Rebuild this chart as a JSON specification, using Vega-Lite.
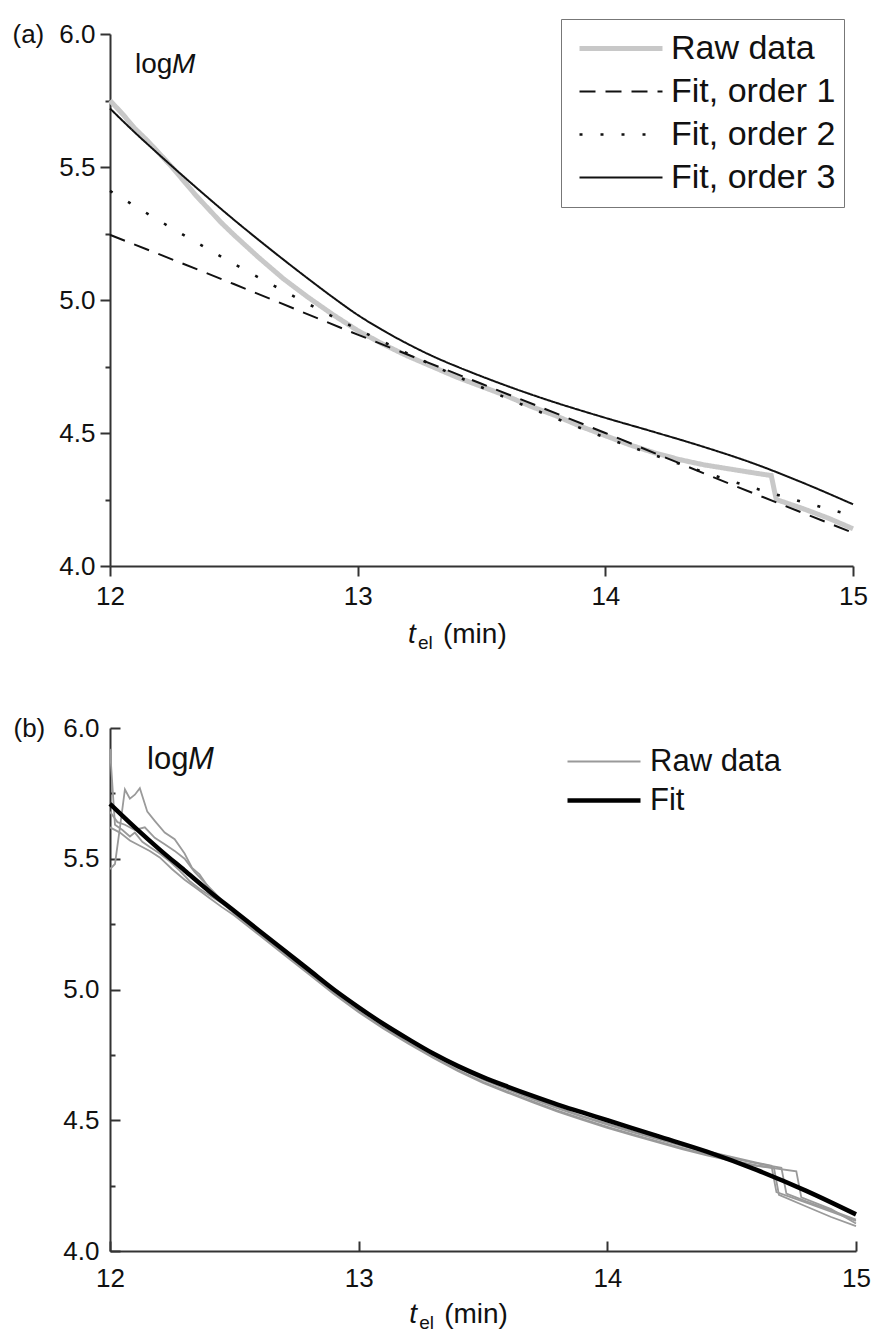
{
  "$schema": "https://vega.github.io/schema/vega-lite/v6.json",
  "background": "white",
  "padding": {"left": 12, "top": 18, "right": 0, "bottom": 4},
  "config": {
    "font": "Liberation Sans",
    "view": {"stroke": null},
    "axis": {"grid": false, "domainColor": "#333333", "domainWidth": 2, "tickColor": "#333333", "tickWidth": 2, "labelFont": "Liberation Sans", "labelFontSize": 26, "labelColor": "#111111", "labelFlush": false, "labelOverlap": false, "titleFont": "Liberation Sans", "titleFontSize": 26, "titleFontWeight": "normal", "titleColor": "#111111"},
    "legend": {"labelFont": "Liberation Sans", "labelColor": "#111111", "labelLimit": 500}
  },
  "datasets": {
    "a": [
      {"s": "Raw data", "t": 12.0, "v": 5.75}, {"s": "Raw data", "t": 12.05, "v": 5.70}, {"s": "Raw data", "t": 12.1, "v": 5.645}, {"s": "Raw data", "t": 12.15, "v": 5.60}, {"s": "Raw data", "t": 12.2, "v": 5.55}, {"s": "Raw data", "t": 12.25, "v": 5.50}, {"s": "Raw data", "t": 12.3, "v": 5.445}, {"s": "Raw data", "t": 12.35, "v": 5.39}, {"s": "Raw data", "t": 12.4, "v": 5.34}, {"s": "Raw data", "t": 12.45, "v": 5.29}, {"s": "Raw data", "t": 12.5, "v": 5.245}, {"s": "Raw data", "t": 12.6, "v": 5.16}, {"s": "Raw data", "t": 12.7, "v": 5.08}, {"s": "Raw data", "t": 12.8, "v": 5.01}, {"s": "Raw data", "t": 12.9, "v": 4.945}, {"s": "Raw data", "t": 13.0, "v": 4.885}, {"s": "Raw data", "t": 13.1, "v": 4.835}, {"s": "Raw data", "t": 13.2, "v": 4.79}, {"s": "Raw data", "t": 13.3, "v": 4.75}, {"s": "Raw data", "t": 13.4, "v": 4.71}, {"s": "Raw data", "t": 13.5, "v": 4.675}, {"s": "Raw data", "t": 13.6, "v": 4.64}, {"s": "Raw data", "t": 13.7, "v": 4.60}, {"s": "Raw data", "t": 13.8, "v": 4.565}, {"s": "Raw data", "t": 13.9, "v": 4.525}, {"s": "Raw data", "t": 14.0, "v": 4.49}, {"s": "Raw data", "t": 14.1, "v": 4.455}, {"s": "Raw data", "t": 14.2, "v": 4.425}, {"s": "Raw data", "t": 14.3, "v": 4.40}, {"s": "Raw data", "t": 14.4, "v": 4.38}, {"s": "Raw data", "t": 14.5, "v": 4.365}, {"s": "Raw data", "t": 14.6, "v": 4.35}, {"s": "Raw data", "t": 14.67, "v": 4.34}, {"s": "Raw data", "t": 14.69, "v": 4.25}, {"s": "Raw data", "t": 14.8, "v": 4.215}, {"s": "Raw data", "t": 14.9, "v": 4.18}, {"s": "Raw data", "t": 15.0, "v": 4.14},
      {"s": "Fit, order 1", "t": 12.0, "v": 5.245}, {"s": "Fit, order 1", "t": 12.5, "v": 5.06}, {"s": "Fit, order 1", "t": 13.0, "v": 4.87}, {"s": "Fit, order 1", "t": 13.5, "v": 4.685}, {"s": "Fit, order 1", "t": 14.0, "v": 4.50}, {"s": "Fit, order 1", "t": 14.5, "v": 4.31}, {"s": "Fit, order 1", "t": 15.0, "v": 4.125},
      {"s": "Fit, order 2", "t": 12.0, "v": 5.41}, {"s": "Fit, order 2", "t": 12.25, "v": 5.27}, {"s": "Fit, order 2", "t": 12.5, "v": 5.136}, {"s": "Fit, order 2", "t": 12.75, "v": 5.01}, {"s": "Fit, order 2", "t": 13.0, "v": 4.89}, {"s": "Fit, order 2", "t": 13.25, "v": 4.778}, {"s": "Fit, order 2", "t": 13.5, "v": 4.672}, {"s": "Fit, order 2", "t": 13.75, "v": 4.574}, {"s": "Fit, order 2", "t": 14.0, "v": 4.483}, {"s": "Fit, order 2", "t": 14.25, "v": 4.40}, {"s": "Fit, order 2", "t": 14.5, "v": 4.322}, {"s": "Fit, order 2", "t": 14.75, "v": 4.253}, {"s": "Fit, order 2", "t": 15.0, "v": 4.19},
      {"s": "Fit, order 3", "t": 12.0, "v": 5.72}, {"s": "Fit, order 3", "t": 12.1, "v": 5.63}, {"s": "Fit, order 3", "t": 12.2, "v": 5.545}, {"s": "Fit, order 3", "t": 12.3, "v": 5.462}, {"s": "Fit, order 3", "t": 12.4, "v": 5.381}, {"s": "Fit, order 3", "t": 12.5, "v": 5.302}, {"s": "Fit, order 3", "t": 12.6, "v": 5.226}, {"s": "Fit, order 3", "t": 12.7, "v": 5.152}, {"s": "Fit, order 3", "t": 12.8, "v": 5.08}, {"s": "Fit, order 3", "t": 12.9, "v": 5.01}, {"s": "Fit, order 3", "t": 13.0, "v": 4.944}, {"s": "Fit, order 3", "t": 13.1, "v": 4.887}, {"s": "Fit, order 3", "t": 13.2, "v": 4.836}, {"s": "Fit, order 3", "t": 13.3, "v": 4.79}, {"s": "Fit, order 3", "t": 13.4, "v": 4.75}, {"s": "Fit, order 3", "t": 13.5, "v": 4.713}, {"s": "Fit, order 3", "t": 13.6, "v": 4.678}, {"s": "Fit, order 3", "t": 13.7, "v": 4.645}, {"s": "Fit, order 3", "t": 13.8, "v": 4.614}, {"s": "Fit, order 3", "t": 13.9, "v": 4.585}, {"s": "Fit, order 3", "t": 14.0, "v": 4.557}, {"s": "Fit, order 3", "t": 14.2, "v": 4.503}, {"s": "Fit, order 3", "t": 14.4, "v": 4.447}, {"s": "Fit, order 3", "t": 14.6, "v": 4.385}, {"s": "Fit, order 3", "t": 14.8, "v": 4.312}, {"s": "Fit, order 3", "t": 15.0, "v": 4.232}
    ],
    "b": [
      {"s": "Raw data", "r": 1, "t": 12.0, "v": 5.92}, {"s": "Raw data", "r": 1, "t": 12.02, "v": 5.63}, {"s": "Raw data", "r": 1, "t": 12.05, "v": 5.61}, {"s": "Raw data", "r": 1, "t": 12.08, "v": 5.585}, {"s": "Raw data", "r": 1, "t": 12.1, "v": 5.60}, {"s": "Raw data", "r": 1, "t": 12.13, "v": 5.565}, {"s": "Raw data", "r": 1, "t": 12.16, "v": 5.545}, {"s": "Raw data", "r": 1, "t": 12.2, "v": 5.52}, {"s": "Raw data", "r": 1, "t": 12.24, "v": 5.49}, {"s": "Raw data", "r": 1, "t": 12.28, "v": 5.455}, {"s": "Raw data", "r": 1, "t": 12.32, "v": 5.415}, {"s": "Raw data", "r": 1, "t": 12.36, "v": 5.385}, {"s": "Raw data", "r": 1, "t": 12.4, "v": 5.36}, {"s": "Raw data", "r": 1, "t": 12.45, "v": 5.33}, {"s": "Raw data", "r": 1, "t": 12.5, "v": 5.30}, {"s": "Raw data", "r": 1, "t": 12.6, "v": 5.222}, {"s": "Raw data", "r": 1, "t": 12.7, "v": 5.148}, {"s": "Raw data", "r": 1, "t": 12.8, "v": 5.072}, {"s": "Raw data", "r": 1, "t": 12.9, "v": 4.998}, {"s": "Raw data", "r": 1, "t": 13.0, "v": 4.928}, {"s": "Raw data", "r": 1, "t": 13.1, "v": 4.866}, {"s": "Raw data", "r": 1, "t": 13.2, "v": 4.808}, {"s": "Raw data", "r": 1, "t": 13.3, "v": 4.754}, {"s": "Raw data", "r": 1, "t": 13.4, "v": 4.704}, {"s": "Raw data", "r": 1, "t": 13.5, "v": 4.66}, {"s": "Raw data", "r": 1, "t": 13.6, "v": 4.62}, {"s": "Raw data", "r": 1, "t": 13.7, "v": 4.584}, {"s": "Raw data", "r": 1, "t": 13.8, "v": 4.548}, {"s": "Raw data", "r": 1, "t": 13.9, "v": 4.516}, {"s": "Raw data", "r": 1, "t": 14.0, "v": 4.487}, {"s": "Raw data", "r": 1, "t": 14.1, "v": 4.458}, {"s": "Raw data", "r": 1, "t": 14.2, "v": 4.432}, {"s": "Raw data", "r": 1, "t": 14.3, "v": 4.406}, {"s": "Raw data", "r": 1, "t": 14.4, "v": 4.382}, {"s": "Raw data", "r": 1, "t": 14.5, "v": 4.36}, {"s": "Raw data", "r": 1, "t": 14.6, "v": 4.338}, {"s": "Raw data", "r": 1, "t": 14.66, "v": 4.326}, {"s": "Raw data", "r": 1, "t": 14.68, "v": 4.225}, {"s": "Raw data", "r": 1, "t": 14.8, "v": 4.185}, {"s": "Raw data", "r": 1, "t": 14.9, "v": 4.15}, {"s": "Raw data", "r": 1, "t": 15.0, "v": 4.115},
      {"s": "Raw data", "r": 2, "t": 12.0, "v": 5.46}, {"s": "Raw data", "r": 2, "t": 12.02, "v": 5.48}, {"s": "Raw data", "r": 2, "t": 12.04, "v": 5.62}, {"s": "Raw data", "r": 2, "t": 12.06, "v": 5.765}, {"s": "Raw data", "r": 2, "t": 12.08, "v": 5.73}, {"s": "Raw data", "r": 2, "t": 12.1, "v": 5.745}, {"s": "Raw data", "r": 2, "t": 12.12, "v": 5.77}, {"s": "Raw data", "r": 2, "t": 12.15, "v": 5.68}, {"s": "Raw data", "r": 2, "t": 12.18, "v": 5.645}, {"s": "Raw data", "r": 2, "t": 12.22, "v": 5.60}, {"s": "Raw data", "r": 2, "t": 12.26, "v": 5.575}, {"s": "Raw data", "r": 2, "t": 12.3, "v": 5.52}, {"s": "Raw data", "r": 2, "t": 12.33, "v": 5.465}, {"s": "Raw data", "r": 2, "t": 12.36, "v": 5.44}, {"s": "Raw data", "r": 2, "t": 12.4, "v": 5.385}, {"s": "Raw data", "r": 2, "t": 12.45, "v": 5.33}, {"s": "Raw data", "r": 2, "t": 12.5, "v": 5.29}, {"s": "Raw data", "r": 2, "t": 12.6, "v": 5.212}, {"s": "Raw data", "r": 2, "t": 12.7, "v": 5.138}, {"s": "Raw data", "r": 2, "t": 12.8, "v": 5.062}, {"s": "Raw data", "r": 2, "t": 12.9, "v": 4.987}, {"s": "Raw data", "r": 2, "t": 13.0, "v": 4.917}, {"s": "Raw data", "r": 2, "t": 13.1, "v": 4.854}, {"s": "Raw data", "r": 2, "t": 13.2, "v": 4.797}, {"s": "Raw data", "r": 2, "t": 13.3, "v": 4.742}, {"s": "Raw data", "r": 2, "t": 13.4, "v": 4.692}, {"s": "Raw data", "r": 2, "t": 13.5, "v": 4.647}, {"s": "Raw data", "r": 2, "t": 13.6, "v": 4.609}, {"s": "Raw data", "r": 2, "t": 13.7, "v": 4.572}, {"s": "Raw data", "r": 2, "t": 13.8, "v": 4.537}, {"s": "Raw data", "r": 2, "t": 13.9, "v": 4.505}, {"s": "Raw data", "r": 2, "t": 14.0, "v": 4.475}, {"s": "Raw data", "r": 2, "t": 14.1, "v": 4.447}, {"s": "Raw data", "r": 2, "t": 14.2, "v": 4.42}, {"s": "Raw data", "r": 2, "t": 14.3, "v": 4.394}, {"s": "Raw data", "r": 2, "t": 14.4, "v": 4.37}, {"s": "Raw data", "r": 2, "t": 14.5, "v": 4.347}, {"s": "Raw data", "r": 2, "t": 14.6, "v": 4.327}, {"s": "Raw data", "r": 2, "t": 14.67, "v": 4.318}, {"s": "Raw data", "r": 2, "t": 14.69, "v": 4.215}, {"s": "Raw data", "r": 2, "t": 14.8, "v": 4.17}, {"s": "Raw data", "r": 2, "t": 14.9, "v": 4.13}, {"s": "Raw data", "r": 2, "t": 15.0, "v": 4.095},
      {"s": "Raw data", "r": 3, "t": 12.0, "v": 5.68}, {"s": "Raw data", "r": 3, "t": 12.03, "v": 5.64}, {"s": "Raw data", "r": 3, "t": 12.06, "v": 5.63}, {"s": "Raw data", "r": 3, "t": 12.1, "v": 5.61}, {"s": "Raw data", "r": 3, "t": 12.14, "v": 5.62}, {"s": "Raw data", "r": 3, "t": 12.18, "v": 5.58}, {"s": "Raw data", "r": 3, "t": 12.22, "v": 5.555}, {"s": "Raw data", "r": 3, "t": 12.26, "v": 5.53}, {"s": "Raw data", "r": 3, "t": 12.3, "v": 5.50}, {"s": "Raw data", "r": 3, "t": 12.34, "v": 5.45}, {"s": "Raw data", "r": 3, "t": 12.38, "v": 5.41}, {"s": "Raw data", "r": 3, "t": 12.42, "v": 5.37}, {"s": "Raw data", "r": 3, "t": 12.46, "v": 5.33}, {"s": "Raw data", "r": 3, "t": 12.5, "v": 5.297}, {"s": "Raw data", "r": 3, "t": 12.6, "v": 5.22}, {"s": "Raw data", "r": 3, "t": 12.7, "v": 5.145}, {"s": "Raw data", "r": 3, "t": 12.8, "v": 5.07}, {"s": "Raw data", "r": 3, "t": 12.9, "v": 4.995}, {"s": "Raw data", "r": 3, "t": 13.0, "v": 4.925}, {"s": "Raw data", "r": 3, "t": 13.1, "v": 4.862}, {"s": "Raw data", "r": 3, "t": 13.2, "v": 4.805}, {"s": "Raw data", "r": 3, "t": 13.3, "v": 4.75}, {"s": "Raw data", "r": 3, "t": 13.4, "v": 4.70}, {"s": "Raw data", "r": 3, "t": 13.5, "v": 4.655}, {"s": "Raw data", "r": 3, "t": 13.6, "v": 4.617}, {"s": "Raw data", "r": 3, "t": 13.7, "v": 4.58}, {"s": "Raw data", "r": 3, "t": 13.8, "v": 4.545}, {"s": "Raw data", "r": 3, "t": 13.9, "v": 4.513}, {"s": "Raw data", "r": 3, "t": 14.0, "v": 4.483}, {"s": "Raw data", "r": 3, "t": 14.1, "v": 4.455}, {"s": "Raw data", "r": 3, "t": 14.2, "v": 4.428}, {"s": "Raw data", "r": 3, "t": 14.3, "v": 4.402}, {"s": "Raw data", "r": 3, "t": 14.4, "v": 4.378}, {"s": "Raw data", "r": 3, "t": 14.5, "v": 4.355}, {"s": "Raw data", "r": 3, "t": 14.6, "v": 4.335}, {"s": "Raw data", "r": 3, "t": 14.7, "v": 4.318}, {"s": "Raw data", "r": 3, "t": 14.72, "v": 4.22}, {"s": "Raw data", "r": 3, "t": 14.8, "v": 4.19}, {"s": "Raw data", "r": 3, "t": 14.9, "v": 4.155}, {"s": "Raw data", "r": 3, "t": 15.0, "v": 4.12},
      {"s": "Raw data", "r": 4, "t": 12.0, "v": 5.62}, {"s": "Raw data", "r": 4, "t": 12.04, "v": 5.60}, {"s": "Raw data", "r": 4, "t": 12.08, "v": 5.57}, {"s": "Raw data", "r": 4, "t": 12.12, "v": 5.55}, {"s": "Raw data", "r": 4, "t": 12.16, "v": 5.53}, {"s": "Raw data", "r": 4, "t": 12.2, "v": 5.505}, {"s": "Raw data", "r": 4, "t": 12.25, "v": 5.46}, {"s": "Raw data", "r": 4, "t": 12.3, "v": 5.42}, {"s": "Raw data", "r": 4, "t": 12.35, "v": 5.385}, {"s": "Raw data", "r": 4, "t": 12.4, "v": 5.35}, {"s": "Raw data", "r": 4, "t": 12.45, "v": 5.315}, {"s": "Raw data", "r": 4, "t": 12.5, "v": 5.283}, {"s": "Raw data", "r": 4, "t": 12.6, "v": 5.208}, {"s": "Raw data", "r": 4, "t": 12.7, "v": 5.133}, {"s": "Raw data", "r": 4, "t": 12.8, "v": 5.058}, {"s": "Raw data", "r": 4, "t": 12.9, "v": 4.983}, {"s": "Raw data", "r": 4, "t": 13.0, "v": 4.913}, {"s": "Raw data", "r": 4, "t": 13.1, "v": 4.85}, {"s": "Raw data", "r": 4, "t": 13.2, "v": 4.793}, {"s": "Raw data", "r": 4, "t": 13.3, "v": 4.738}, {"s": "Raw data", "r": 4, "t": 13.4, "v": 4.688}, {"s": "Raw data", "r": 4, "t": 13.5, "v": 4.643}, {"s": "Raw data", "r": 4, "t": 13.6, "v": 4.605}, {"s": "Raw data", "r": 4, "t": 13.7, "v": 4.568}, {"s": "Raw data", "r": 4, "t": 13.8, "v": 4.533}, {"s": "Raw data", "r": 4, "t": 13.9, "v": 4.501}, {"s": "Raw data", "r": 4, "t": 14.0, "v": 4.471}, {"s": "Raw data", "r": 4, "t": 14.1, "v": 4.443}, {"s": "Raw data", "r": 4, "t": 14.2, "v": 4.416}, {"s": "Raw data", "r": 4, "t": 14.3, "v": 4.39}, {"s": "Raw data", "r": 4, "t": 14.4, "v": 4.366}, {"s": "Raw data", "r": 4, "t": 14.5, "v": 4.345}, {"s": "Raw data", "r": 4, "t": 14.6, "v": 4.326}, {"s": "Raw data", "r": 4, "t": 14.76, "v": 4.305}, {"s": "Raw data", "r": 4, "t": 14.78, "v": 4.205}, {"s": "Raw data", "r": 4, "t": 14.9, "v": 4.16}, {"s": "Raw data", "r": 4, "t": 15.0, "v": 4.105},
      {"s": "Fit", "r": 0, "t": 12.0, "v": 5.71}, {"s": "Fit", "r": 0, "t": 12.1, "v": 5.62}, {"s": "Fit", "r": 0, "t": 12.2, "v": 5.535}, {"s": "Fit", "r": 0, "t": 12.3, "v": 5.455}, {"s": "Fit", "r": 0, "t": 12.4, "v": 5.375}, {"s": "Fit", "r": 0, "t": 12.5, "v": 5.30}, {"s": "Fit", "r": 0, "t": 12.6, "v": 5.225}, {"s": "Fit", "r": 0, "t": 12.7, "v": 5.15}, {"s": "Fit", "r": 0, "t": 12.8, "v": 5.075}, {"s": "Fit", "r": 0, "t": 12.9, "v": 5.00}, {"s": "Fit", "r": 0, "t": 13.0, "v": 4.932}, {"s": "Fit", "r": 0, "t": 13.1, "v": 4.868}, {"s": "Fit", "r": 0, "t": 13.2, "v": 4.81}, {"s": "Fit", "r": 0, "t": 13.3, "v": 4.755}, {"s": "Fit", "r": 0, "t": 13.4, "v": 4.707}, {"s": "Fit", "r": 0, "t": 13.5, "v": 4.665}, {"s": "Fit", "r": 0, "t": 13.6, "v": 4.628}, {"s": "Fit", "r": 0, "t": 13.7, "v": 4.593}, {"s": "Fit", "r": 0, "t": 13.8, "v": 4.56}, {"s": "Fit", "r": 0, "t": 13.9, "v": 4.53}, {"s": "Fit", "r": 0, "t": 14.0, "v": 4.50}, {"s": "Fit", "r": 0, "t": 14.2, "v": 4.44}, {"s": "Fit", "r": 0, "t": 14.4, "v": 4.38}, {"s": "Fit", "r": 0, "t": 14.6, "v": 4.31}, {"s": "Fit", "r": 0, "t": 14.8, "v": 4.23}, {"s": "Fit", "r": 0, "t": 15.0, "v": 4.14}
    ],
    "lab_log": [{"txt": "log"}],
    "lab_M": [{"txt": "M"}],
    "lab_t": [{"txt": "t"}],
    "lab_el": [{"txt": "el"}],
    "lab_min": [{"txt": "(min)"}]
  },
  "spacing": 162,
  "bounds": "flush",
  "resolve": {
    "scale": {"color": "independent", "strokeWidth": "independent", "strokeDash": "independent"},
    "legend": {"color": "independent", "strokeWidth": "independent", "strokeDash": "independent"}
  },
  "vconcat": [
    {
      "width": 743,
      "height": 532,
      "layer": [
        {
          "data": {"name": "a"},
          "transform": [{"filter": "datum.s === 'Raw data'"}],
          "mark": {"type": "line"},
          "encoding": {
            "x": {"field": "t", "type": "quantitative", "scale": {"domain": [12, 15]},
              "axis": {"values": [12, 12.5, 13, 13.5, 14, 14.5, 15], "format": "d", "labelExpr": "datum.value % 1 === 0 ? datum.label : ''", "tickSize": {"expr": "datum.value % 1 === 0 ? 10 : 6"}, "labelPadding": 7, "labelFontSize": 26, "title": null}},
            "y": {"field": "v", "type": "quantitative", "scale": {"domain": [4, 6]},
              "axis": {"values": [4, 4.25, 4.5, 4.75, 5, 5.25, 5.5, 5.75, 6], "format": ".1f", "labelExpr": "(datum.value * 2) % 1 === 0 ? datum.label : ''", "tickSize": {"expr": "(datum.value * 2) % 1 === 0 ? 10 : 5"}, "labelPadding": 5, "labelFontSize": 26, "title": "(a)", "titleFontSize": 26, "titleAngle": 0, "titleAlign": "left", "titleBaseline": "middle", "titleX": -98, "titleY": 0}},
            "color": {"field": "s", "type": "nominal", "scale": {"domain": ["Raw data", "Fit, order 1", "Fit, order 2", "Fit, order 3"], "range": ["#c8c8c8", "#111111", "#111111", "#111111"]},
              "legend": {"title": null, "orient": "none", "legendX": 451, "legendY": -15, "strokeColor": "#777777", "padding": 8, "symbolType": "stroke", "symbolSize": 6889, "clipHeight": 43, "labelFontSize": 34, "symbolOffset": 8, "labelOffset": 6, "rowPadding": 0}},
            "strokeDash": {"field": "s", "type": "nominal", "scale": {"domain": ["Raw data", "Fit, order 1", "Fit, order 2", "Fit, order 3"], "range": [[1, 0], [16, 10], [3, 18], [1, 0]]},
              "legend": {"title": null, "orient": "none", "legendX": 451, "legendY": -15, "strokeColor": "#777777", "padding": 8, "symbolType": "stroke", "symbolSize": 6889, "clipHeight": 43, "labelFontSize": 34, "symbolOffset": 8, "labelOffset": 6, "rowPadding": 0}},
            "strokeWidth": {"field": "s", "type": "nominal", "scale": {"type": "ordinal", "domain": ["Raw data", "Fit, order 1", "Fit, order 2", "Fit, order 3"], "range": [5, 2, 2.6, 2]},
              "legend": {"title": null, "orient": "none", "legendX": 451, "legendY": -15, "strokeColor": "#777777", "padding": 8, "symbolType": "stroke", "symbolSize": 6889, "clipHeight": 43, "labelFontSize": 34, "symbolOffset": 8, "labelOffset": 6, "rowPadding": 0}}
          }
        },
        {
          "data": {"name": "a"},
          "transform": [{"filter": "datum.s !== 'Raw data'"}],
          "mark": {"type": "line", "interpolate": "monotone"},
          "encoding": {
            "x": {"field": "t", "type": "quantitative"},
            "y": {"field": "v", "type": "quantitative"},
            "color": {"field": "s", "type": "nominal", "scale": {"domain": ["Raw data", "Fit, order 1", "Fit, order 2", "Fit, order 3"], "range": ["#c8c8c8", "#111111", "#111111", "#111111"]},
              "legend": {"title": null, "orient": "none", "legendX": 451, "legendY": -15, "strokeColor": "#777777", "padding": 8, "symbolType": "stroke", "symbolSize": 6889, "clipHeight": 43, "labelFontSize": 34, "symbolOffset": 8, "labelOffset": 6, "rowPadding": 0}},
            "strokeDash": {"field": "s", "type": "nominal", "scale": {"domain": ["Raw data", "Fit, order 1", "Fit, order 2", "Fit, order 3"], "range": [[1, 0], [16, 10], [3, 18], [1, 0]]},
              "legend": {"title": null, "orient": "none", "legendX": 451, "legendY": -15, "strokeColor": "#777777", "padding": 8, "symbolType": "stroke", "symbolSize": 6889, "clipHeight": 43, "labelFontSize": 34, "symbolOffset": 8, "labelOffset": 6, "rowPadding": 0}},
            "strokeWidth": {"field": "s", "type": "nominal", "scale": {"type": "ordinal", "domain": ["Raw data", "Fit, order 1", "Fit, order 2", "Fit, order 3"], "range": [5, 2, 2.6, 2]},
              "legend": {"title": null, "orient": "none", "legendX": 451, "legendY": -15, "strokeColor": "#777777", "padding": 8, "symbolType": "stroke", "symbolSize": 6889, "clipHeight": 43, "labelFontSize": 34, "symbolOffset": 8, "labelOffset": 6, "rowPadding": 0}}
          }
        },
        {"data": {"name": "lab_log"}, "mark": {"type": "text", "align": "left", "baseline": "alphabetic", "fontSize": 28, "color": "#111111", "clip": false}, "encoding": {"text": {"field": "txt"}, "x": {"datum": 12.101, "type": "quantitative"}, "y": {"datum": 5.853, "type": "quantitative"}}},
        {"data": {"name": "lab_M"}, "mark": {"type": "text", "align": "left", "baseline": "alphabetic", "fontSize": 28, "fontStyle": "italic", "dx": 37, "color": "#111111", "clip": false}, "encoding": {"text": {"field": "txt"}, "x": {"datum": 12.101, "type": "quantitative"}, "y": {"datum": 5.853, "type": "quantitative"}}},
        {"data": {"name": "lab_t"}, "mark": {"type": "text", "align": "left", "baseline": "alphabetic", "fontSize": 28, "fontStyle": "italic", "color": "#111111", "clip": false}, "encoding": {"text": {"field": "txt"}, "x": {"datum": 13.203, "type": "quantitative"}, "y": {"datum": 3.7105, "type": "quantitative"}}},
        {"data": {"name": "lab_el"}, "mark": {"type": "text", "align": "left", "baseline": "alphabetic", "fontSize": 19, "dx": 10, "dy": 6, "color": "#111111", "clip": false}, "encoding": {"text": {"field": "txt"}, "x": {"datum": 13.203, "type": "quantitative"}, "y": {"datum": 3.7105, "type": "quantitative"}}},
        {"data": {"name": "lab_min"}, "mark": {"type": "text", "align": "left", "baseline": "alphabetic", "fontSize": 28, "dx": 35, "color": "#111111", "clip": false}, "encoding": {"text": {"field": "txt"}, "x": {"datum": 13.203, "type": "quantitative"}, "y": {"datum": 3.7105, "type": "quantitative"}}}
      ]
    },
    {
      "width": 746,
      "height": 523,
      "layer": [
        {
          "data": {"name": "b"},
          "transform": [{"filter": "datum.s === 'Raw data'"}],
          "mark": {"type": "line"},
          "encoding": {
            "x": {"field": "t", "type": "quantitative", "scale": {"domain": [12, 15]},
              "axis": {"values": [12, 12.5, 13, 13.5, 14, 14.5, 15], "format": "d", "labelExpr": "datum.value % 1 === 0 ? datum.label : ''", "tickSize": {"expr": "datum.value % 1 === 0 ? -10 : -5"}, "labelPadding": 24, "labelFontSize": 26, "title": null}},
            "y": {"field": "v", "type": "quantitative", "scale": {"domain": [4, 6]},
              "axis": {"values": [4, 4.25, 4.5, 4.75, 5, 5.25, 5.5, 5.75, 6], "format": ".1f", "labelExpr": "(datum.value * 2) % 1 === 0 ? datum.label : ''", "tickSize": {"expr": "(datum.value * 2) % 1 === 0 ? -10 : -5"}, "labelPadding": 21, "labelFontSize": 26, "title": "(b)", "titleFontSize": 26, "titleAngle": 0, "titleAlign": "left", "titleBaseline": "middle", "titleX": -97, "titleY": 0}},
            "detail": {"field": "r", "type": "nominal"},
            "color": {"field": "s", "type": "nominal", "scale": {"domain": ["Raw data", "Fit"], "range": ["#9a9a9a", "#000000"]},
              "legend": {"title": null, "orient": "none", "legendX": 455, "legendY": 14, "padding": 0, "symbolType": "stroke", "symbolSize": 5329, "clipHeight": 39, "labelFontSize": 31, "symbolOffset": 0, "labelOffset": 7, "rowPadding": 0}},
            "strokeWidth": {"field": "s", "type": "nominal", "scale": {"type": "ordinal", "domain": ["Raw data", "Fit"], "range": [1.8, 4.5]},
              "legend": {"title": null, "orient": "none", "legendX": 455, "legendY": 14, "padding": 0, "symbolType": "stroke", "symbolSize": 5329, "clipHeight": 39, "labelFontSize": 31, "symbolOffset": 0, "labelOffset": 7, "rowPadding": 0}}
          }
        },
        {
          "data": {"name": "b"},
          "transform": [{"filter": "datum.s === 'Fit'"}],
          "mark": {"type": "line", "interpolate": "monotone"},
          "encoding": {
            "x": {"field": "t", "type": "quantitative"},
            "y": {"field": "v", "type": "quantitative"},
            "color": {"field": "s", "type": "nominal", "scale": {"domain": ["Raw data", "Fit"], "range": ["#9a9a9a", "#000000"]},
              "legend": {"title": null, "orient": "none", "legendX": 455, "legendY": 14, "padding": 0, "symbolType": "stroke", "symbolSize": 5329, "clipHeight": 39, "labelFontSize": 31, "symbolOffset": 0, "labelOffset": 7, "rowPadding": 0}},
            "strokeWidth": {"field": "s", "type": "nominal", "scale": {"type": "ordinal", "domain": ["Raw data", "Fit"], "range": [1.8, 4.5]},
              "legend": {"title": null, "orient": "none", "legendX": 455, "legendY": 14, "padding": 0, "symbolType": "stroke", "symbolSize": 5329, "clipHeight": 39, "labelFontSize": 31, "symbolOffset": 0, "labelOffset": 7, "rowPadding": 0}}
          }
        },
        {"data": {"name": "lab_log"}, "mark": {"type": "text", "align": "left", "baseline": "alphabetic", "fontSize": 31, "color": "#111111", "clip": false}, "encoding": {"text": {"field": "txt"}, "x": {"datum": 12.149, "type": "quantitative"}, "y": {"datum": 5.843, "type": "quantitative"}}},
        {"data": {"name": "lab_M"}, "mark": {"type": "text", "align": "left", "baseline": "alphabetic", "fontSize": 31, "fontStyle": "italic", "dx": 41, "color": "#111111", "clip": false}, "encoding": {"text": {"field": "txt"}, "x": {"datum": 12.149, "type": "quantitative"}, "y": {"datum": 5.843, "type": "quantitative"}}},
        {"data": {"name": "lab_t"}, "mark": {"type": "text", "align": "left", "baseline": "alphabetic", "fontSize": 28, "fontStyle": "italic", "color": "#111111", "clip": false}, "encoding": {"text": {"field": "txt"}, "x": {"datum": 13.203, "type": "quantitative"}, "y": {"datum": 3.7247, "type": "quantitative"}}},
        {"data": {"name": "lab_el"}, "mark": {"type": "text", "align": "left", "baseline": "alphabetic", "fontSize": 19, "dx": 10, "dy": 6, "color": "#111111", "clip": false}, "encoding": {"text": {"field": "txt"}, "x": {"datum": 13.203, "type": "quantitative"}, "y": {"datum": 3.7247, "type": "quantitative"}}},
        {"data": {"name": "lab_min"}, "mark": {"type": "text", "align": "left", "baseline": "alphabetic", "fontSize": 28, "dx": 35, "color": "#111111", "clip": false}, "encoding": {"text": {"field": "txt"}, "x": {"datum": 13.203, "type": "quantitative"}, "y": {"datum": 3.7247, "type": "quantitative"}}}
      ]
    }
  ]
}
